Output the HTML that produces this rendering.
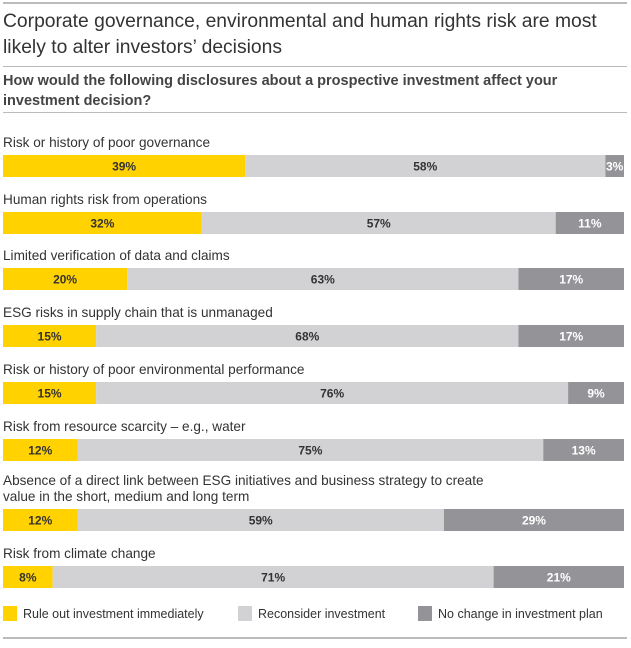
<!DOCTYPE html>
<html><head><meta charset="utf-8"><style>
body{margin:0;width:631px;height:648px;background:#fff;font-family:"Liberation Sans",sans-serif;color:#333;position:relative;overflow:hidden}
.hr{position:absolute;left:3px;width:624px;background:#bbb}
.t{position:absolute;left:3px;white-space:nowrap}
</style></head><body>
<div class="hr" style="top:2px;height:2px"></div>
<div class="t" style="top:9px;font-size:19.3px;line-height:26px;color:#333">Corporate governance, environmental and human rights risk are most<br>likely to alter investors’ decisions</div>
<div class="hr" style="top:66px;height:1px"></div>
<div class="t" style="top:71px;font-size:14.5px;line-height:20px;font-weight:bold;color:#444">How would the following disclosures about a prospective investment affect your<br>investment decision?</div>
<div class="hr" style="top:112px;height:1px"></div>
<svg id="chart" width="631" height="648" style="position:absolute;left:0;top:0"></svg>
<div class="hr" style="top:637px;height:2px"></div>
<script>
const categories=["Risk or history of poor governance","Human rights risk from operations","Limited verification of data and claims","ESG risks in supply chain that is unmanaged","Risk or history of poor environmental performance","Risk from resource scarcity – e.g., water","Absence of a direct link between ESG initiatives and business strategy to create|value in the short, medium and long term","Risk from climate change"];
const ruleOut=[39,32,20,15,15,12,12,8];
const reconsider=[58,57,63,68,76,75,59,71];
const noChange=[3,11,17,17,9,13,29,21];
const seriesNames=["Rule out investment immediately","Reconsider investment","No change in investment plan"];
const colors=["#ffd200","#d2d2d4","#949498"];
const textColors=["#333","#333","#fff"];
const barTops=[155,212,268,325,382,439,509,566];
const svg=document.getElementById('chart');const NS="http://www.w3.org/2000/svg";
const x0=3,W=621,BH=22;
const xs=v=>v/100*W;
function el(t,a){const e=document.createElementNS(NS,t);for(const k in a)e.setAttribute(k,a[k]);svg.appendChild(e);return e;}
const series=[ruleOut,reconsider,noChange];
categories.forEach((c,i)=>{
  const y=barTops[i];const lines=c.split('|');
  lines.forEach((ln,j)=>{const t=el('text',{x:3,y:y-8-(lines.length-1-j)*16,'font-size':13.6,fill:'#333'});t.textContent=ln;
    
    });
  let acc=0;
  series.forEach((s,k)=>{
    const v=s[i];const x=x0+xs(acc);const w=xs(v);
    const r=el('rect',{x:x,y:y,width:w,height:BH,fill:colors[k]});
    
    
    const t=el('text',{x:x+w/2,y:y+15.5,'font-size':12,'font-weight':'bold','text-anchor':'middle',fill:textColors[k]});
    t.textContent=v+'%';
    
    
    acc+=v;
  });
});
const legX=[3,238,418];
seriesNames.forEach((n,k)=>{
  const r=el('rect',{x:legX[k],y:606,width:14,height:15,fill:colors[k]});
  
  
  const t=el('text',{x:legX[k]+20,y:618,'font-size':12.5,fill:'#333'});t.textContent=n;
  
  
});
</script>
</body></html>
